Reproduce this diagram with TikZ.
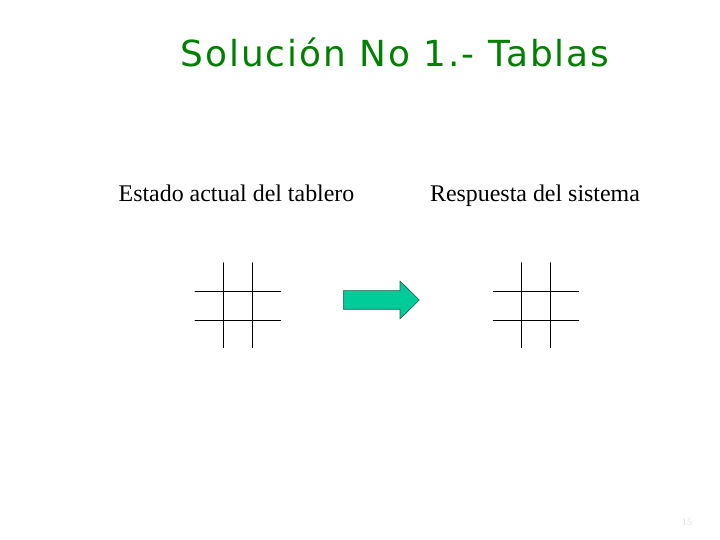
\documentclass[tikz,border=0pt]{standalone}
\usepackage{fontspec}
\setmainfont{Liberation Serif}
\newfontfamily\titlefont[LetterSpace=5.5]{DejaVu Sans}
\usepackage{tkz-euclide}
\usetikzlibrary{calc}
\definecolor{titlegreen}{RGB}{0,128,0}
\definecolor{arrowfill}{RGB}{0,204,153}
\definecolor{arrowline}{RGB}{40,90,70}
\tikzset{gridline/.style={line width=0.8pt,black},
         caption/.style={font=\fontsize{24}{28}\selectfont,text=black,anchor=base}}

\begin{document}
\begin{tikzpicture}[x=1bp,y=1bp]
            \useasboundingbox (0,0) rectangle (720,540);
            % title
            \node[font=\titlefont\fontsize{36}{42}\selectfont,text=titlegreen,anchor=base] (title) at (395,473.3) {Solución No 1.- Tablas};
            \node[caption] (estado) at (236.5,338.3) {Estado actual del tablero};
            \node[caption] (respuesta) at (535,338.3) {Respuesta del sistema};
            % left board
            \tkzDefPoint(223.3,277.3){A_1}
            \tkzDefPoint(223.3,192.3){A_2}
            \tkzDefPoint(252.3,277.3){B_1}
            \tkzDefPoint(252.3,192.3){B_2}
            \tkzDefPoint(195,248.3){C_1}
            \tkzDefPoint(280.7,248.3){C_2}
            \tkzDefPoint(195,219.7){D_1}
            \tkzDefPoint(280.7,219.7){D_2}
            \tkzDrawSegments[gridline](A_1,A_2 B_1,B_2 C_1,C_2 D_1,D_2)
            % right board
            \tkzDefPoint(521.7,277.3){E_1}
            \tkzDefPoint(521.7,192.3){E_2}
            \tkzDefPoint(550.3,277.3){F_1}
            \tkzDefPoint(550.3,192.3){F_2}
            \tkzDefPoint(493.3,248.3){G_1}
            \tkzDefPoint(578.7,248.3){G_2}
            \tkzDefPoint(493.3,219.7){H_1}
            \tkzDefPoint(578.7,219.7){H_2}
            \tkzDrawSegments[gridline](E_1,E_2 F_1,F_2 G_1,G_2 H_1,H_2)
            % arrow
            \tkzDefPoint(343.3,249.3){P_1}
            \tkzDefPoint(400,249.3){P_2}
            \tkzDefPoint(400,259){P_3}
            \tkzDefPoint(419.3,240){P_4}
            \tkzDefPoint(400,221){P_5}
            \tkzDefPoint(400,230.7){P_6}
            \tkzDefPoint(343.3,230.7){P_7}
            \tkzDrawPolygon[fill=arrowfill,draw=arrowline,line width=0.6pt](P_1,P_2,P_3,P_4,P_5,P_6,P_7)
            % page number
            \node[font=\fontsize{10}{12}\selectfont,text=black!12] (page) at (687,18) {15};
        \end{tikzpicture}
\end{document}
